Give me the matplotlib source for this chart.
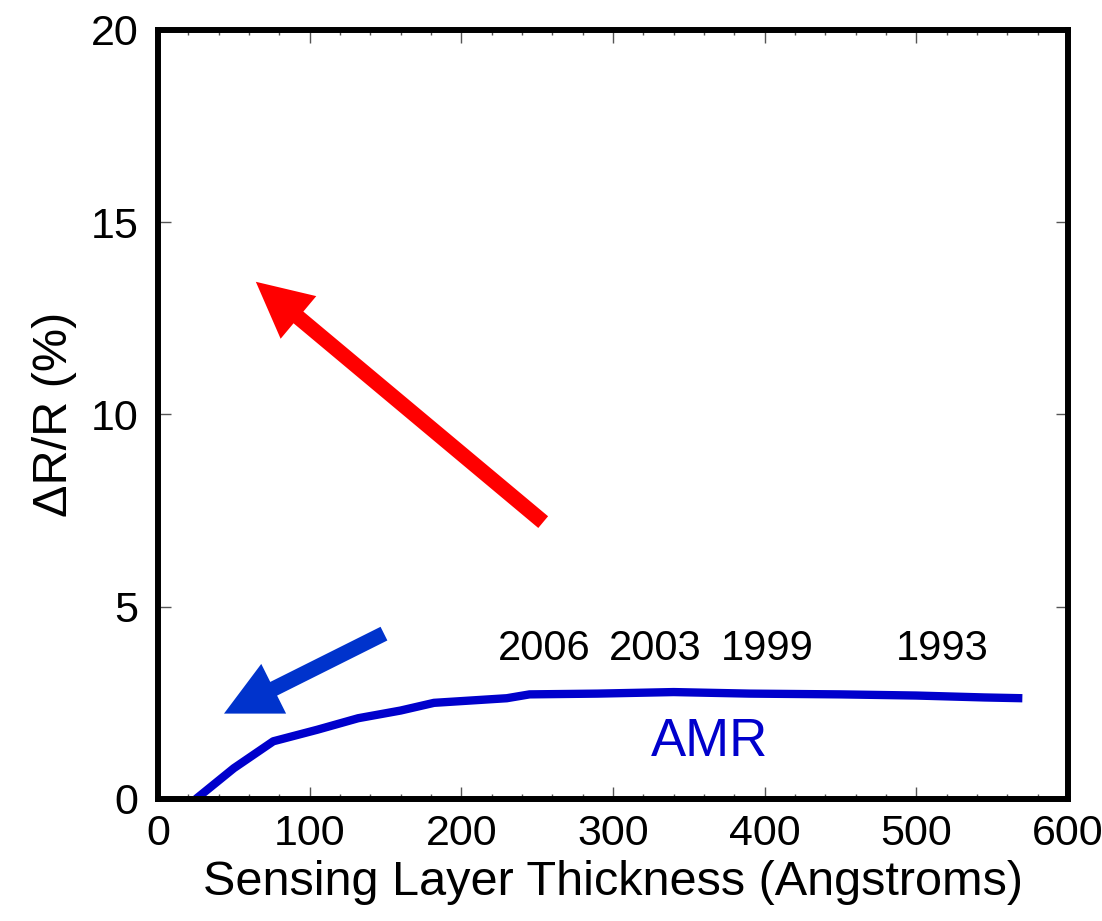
import matplotlib.pyplot as plt
from matplotlib.ticker import MultipleLocator

plt.rcParams['font.family'] = ['Liberation Sans', 'DejaVu Sans']

# AMR curve (sensing layer thickness vs dR/R)
thickness = [25, 50, 76, 105, 132, 160, 182, 230, 245, 290, 340, 390, 450, 500, 545, 570]
dr_r = [0.0, 0.8, 1.5, 1.8, 2.1, 2.3, 2.5, 2.62, 2.72, 2.74, 2.78, 2.74, 2.72, 2.69, 2.64, 2.62]

years = ['2006', '2003', '1999', '1993']
year_x = [255, 328, 402, 517]
year_y = 3.9

# arrows: (tail, tip)
red_arrow = ((254, 7.2), (64.5, 13.45))
blue_arrow = ((149, 4.3), (43.5, 2.22))

fig = plt.figure(figsize=(11.02, 9.21), dpi=100)
ax = fig.add_axes([0.1434, 0.1325, 0.8256, 0.835])

ax.plot(thickness, dr_r, color='#0000CC', lw=6, solid_capstyle='butt')

for t, x in zip(years, year_x):
    ax.text(x, year_y, t, ha='center', va='center', fontsize=30)

ax.text(364, 1.48, 'AMR', color='#0000CC', ha='center', va='center', fontsize=38)

for (tail, tip), col in [(red_arrow, '#FF0000'), (blue_arrow, '#0033CC')]:
    ax.annotate('', xy=tip, xytext=tail,
                arrowprops=dict(arrowstyle='simple,head_length=2.0,head_width=2.0,tail_width=0.55',
                                color=col, mutation_scale=20, shrinkA=0, shrinkB=0, lw=0))

ax.set_xlim(0, 600)
ax.set_ylim(0, 20)
ax.xaxis.set_major_locator(MultipleLocator(100))
ax.xaxis.set_minor_locator(MultipleLocator(20))
ax.yaxis.set_major_locator(MultipleLocator(5))

ax.tick_params(which='both', direction='in', top=True, right=True, color='#555555', width=1)
ax.tick_params(which='major', length=9, labelsize=31)
ax.tick_params(axis='x', which='major', pad=11)
ax.tick_params(axis='y', which='major', pad=14)
ax.tick_params(which='minor', length=3.5)

for s in ax.spines.values():
    s.set_linewidth(4.3)
    s.set_color('black')

ax.set_xlabel('Sensing Layer Thickness (Angstroms)', fontsize=35, labelpad=4)
ax.set_ylabel('ΔR/R (%)', fontsize=35, labelpad=10)

fig.savefig('out.png', dpi=100)
